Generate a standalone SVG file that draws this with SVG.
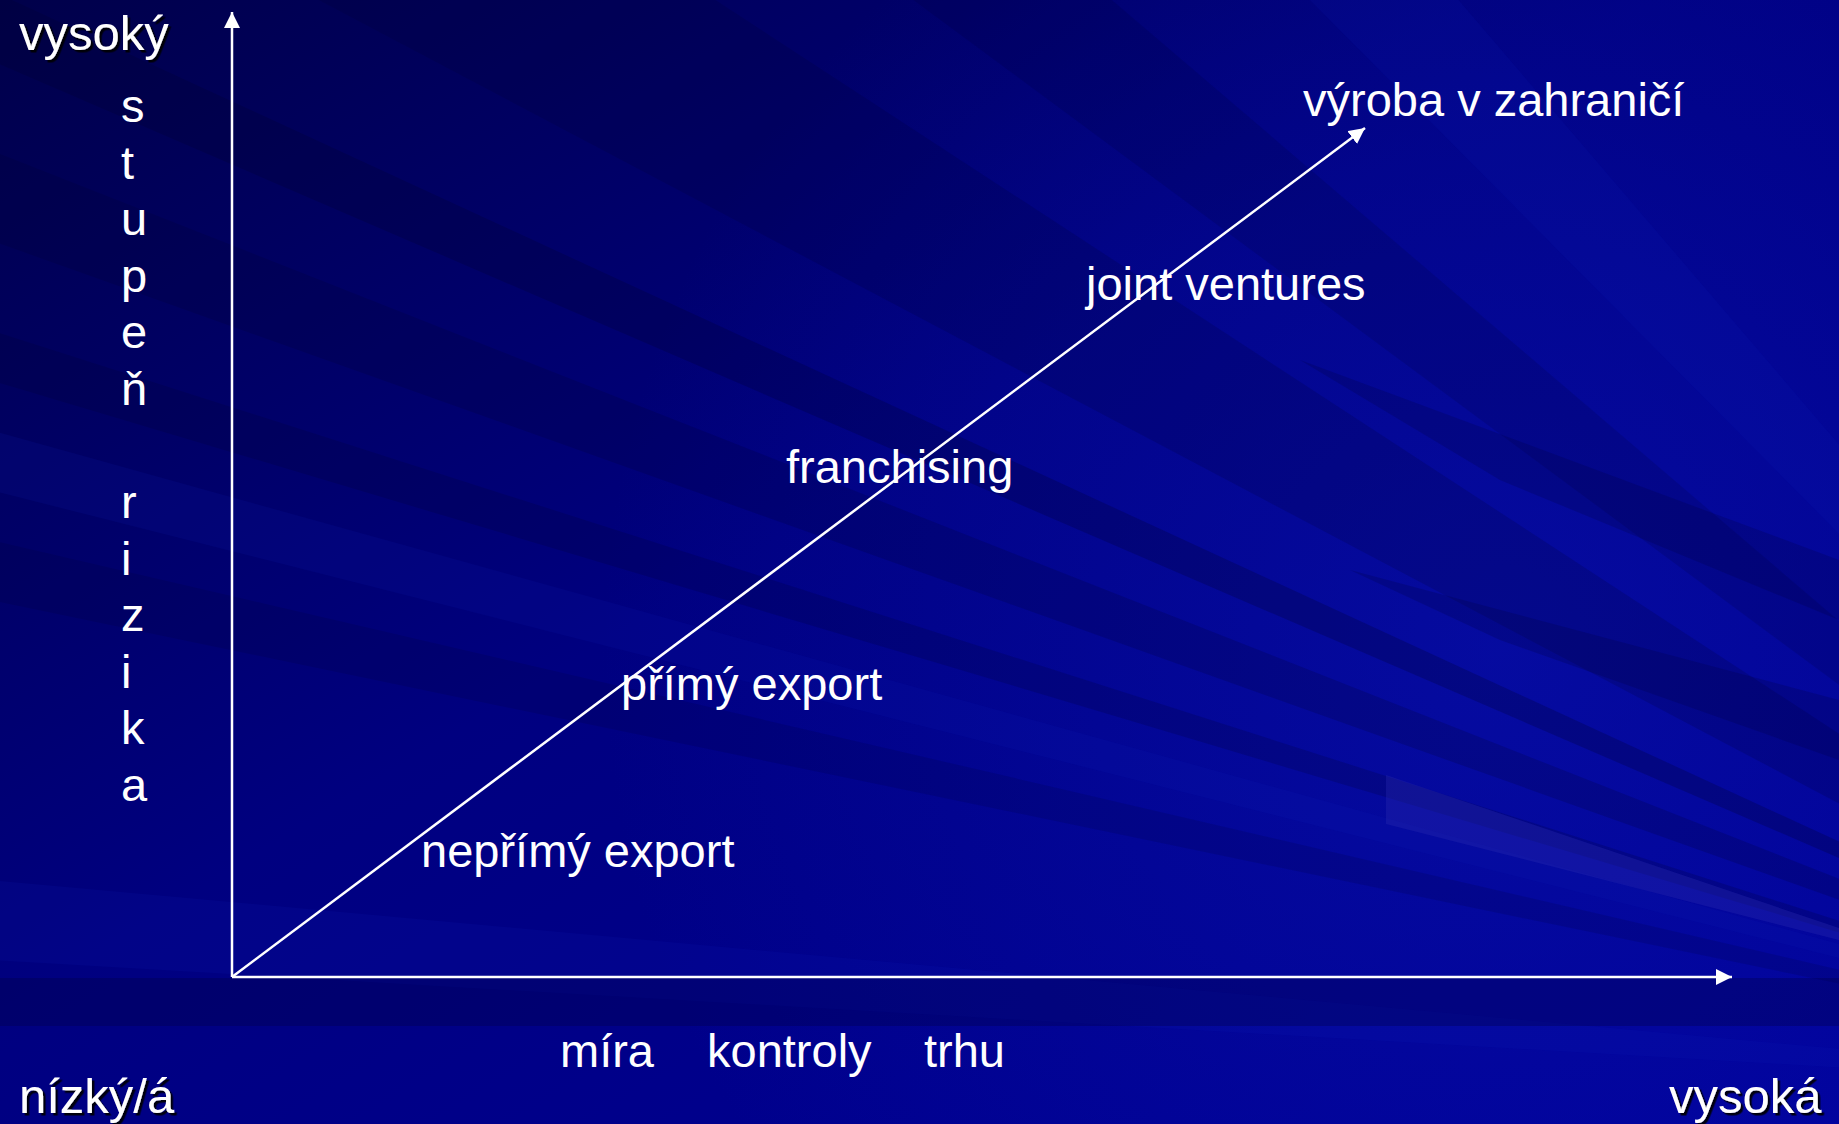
<svg xmlns="http://www.w3.org/2000/svg" width="1839" height="1124" viewBox="0 0 1839 1124">
  <defs>
    <linearGradient id="bg" x1="0" y1="0" x2="1" y2="1">
      <stop offset="0" stop-color="#00004a"/>
      <stop offset="0.45" stop-color="#000080"/>
      <stop offset="1" stop-color="#00009a"/>
    </linearGradient>
    <radialGradient id="glow" cx="1500" cy="650" r="900" gradientUnits="userSpaceOnUse">
      <stop offset="0" stop-color="#0a14b0" stop-opacity="0.55"/>
      <stop offset="1" stop-color="#0a14b0" stop-opacity="0"/>
    </radialGradient>
    <marker id="arr" viewBox="0 0 16 16" refX="16" refY="8" markerWidth="16" markerHeight="16" markerUnits="userSpaceOnUse" orient="auto">
      <path d="M0,0 L16,8 L0,16 Z" fill="#ffffff"/>
    </marker>
    <filter id="sh" x="-10%" y="-10%" width="130%" height="140%">
      <feDropShadow dx="2.5" dy="2.5" stdDeviation="0.6" flood-color="#000000" flood-opacity="0.9"/>
    </filter>
  </defs>
  <style>
    .t { font-family: "Liberation Sans", Arial, sans-serif; font-size: 47px; fill: #ffffff; }
    .c { font-size: 49px; }
    .ax { stroke: #ffffff; stroke-width: 2.5; fill: none; }
  </style>

  <!-- background -->
  <rect x="0" y="0" width="1839" height="1124" fill="url(#bg)"/>
  <rect x="0" y="0" width="1839" height="1124" fill="url(#glow)"/>
  <g id="rays">
    <polygon points="2400,1100 -10,-10 -10,60" fill="#000030" opacity="0.25"/>
    <polygon points="2400,1100 -10,150 -10,240" fill="#000030" opacity="0.2"/>
    <polygon points="2400,1100 -10,330 -10,380" fill="#000030" opacity="0.2"/>
    <polygon points="2400,1100 300,-10 700,-10" fill="#000030" opacity="0.18"/>
    <polygon points="2400,1100 900,-10 1100,-10" fill="#000030" opacity="0.15"/>
    <polygon points="2400,1100 -10,540 -10,600" fill="#000030" opacity="0.15"/>
    <polygon points="2400,1100 1300,-10 1450,-10" fill="#1020c0" opacity="0.12"/>
    <polygon points="2400,1100 -10,430 -10,490" fill="#1020c0" opacity="0.12"/>
    <polygon points="2400,1100 -10,880 -10,960" fill="#1020c0" opacity="0.12"/>
    <polygon points="1839,620 1500,480 1300,360 1839,560" fill="#000040" opacity="0.22"/>
    <polygon points="1839,760 1500,640 1350,570 1839,700" fill="#000040" opacity="0.22"/>
    <polygon points="1386,775 1839,928 1839,940 1386,824" fill="#2a2ab0" opacity="0.35"/>
    <rect x="0" y="978" width="1839" height="48" fill="#000040" opacity="0.3"/>
  </g>

  <!-- connectors -->
  <g id="connectors">
    <line class="ax" x1="232" y1="977" x2="232" y2="12" marker-end="url(#arr)"/>
    <line class="ax" x1="232" y1="977" x2="1732" y2="977" marker-end="url(#arr)"/>
    <line class="ax" x1="232" y1="977" x2="1365" y2="128" marker-end="url(#arr)"/>
  </g>

  <!-- corner labels -->
  <g id="label-vysoky"><text class="t c" x="19" y="50" filter="url(#sh)">vysoký</text></g>
  <g id="label-nizky"><text class="t c" x="19" y="1113" filter="url(#sh)">nízký/á</text></g>
  <g id="label-vysoka"><text class="t c" x="1669" y="1113" filter="url(#sh)">vysoká</text></g>

  <!-- vertical axis label -->
  <g id="label-stupen-rizika">
    <text class="t" x="121" y="122">s</text>
    <text class="t" x="121" y="179">t</text>
    <text class="t" x="121" y="235">u</text>
    <text class="t" x="121" y="292">p</text>
    <text class="t" x="121" y="348">e</text>
    <text class="t" x="121" y="405">ň</text>
    <text class="t" x="121" y="518">r</text>
    <text class="t" x="121" y="575">i</text>
    <text class="t" x="121" y="631">z</text>
    <text class="t" x="121" y="688">i</text>
    <text class="t" x="121" y="744">k</text>
    <text class="t" x="121" y="801">a</text>
  </g>

  <!-- horizontal axis label -->
  <g id="label-mira-kontroly-trhu">
    <text class="t" x="560" y="1067">míra</text>
    <text class="t" x="707" y="1067">kontroly</text>
    <text class="t" x="924" y="1067">trhu</text>
  </g>

  <!-- nodes -->
  <g id="node-neprimy-export"><text class="t" x="421" y="867">nepřímý export</text></g>
  <g id="node-primy-export"><text class="t" x="621" y="700">přímý export</text></g>
  <g id="node-franchising"><text class="t" x="786" y="483">franchising</text></g>
  <g id="node-joint-ventures"><text class="t" x="1086" y="300">joint ventures</text></g>
  <g id="node-vyroba"><text class="t" x="1303" y="116">výroba v zahraničí</text></g>
</svg>
